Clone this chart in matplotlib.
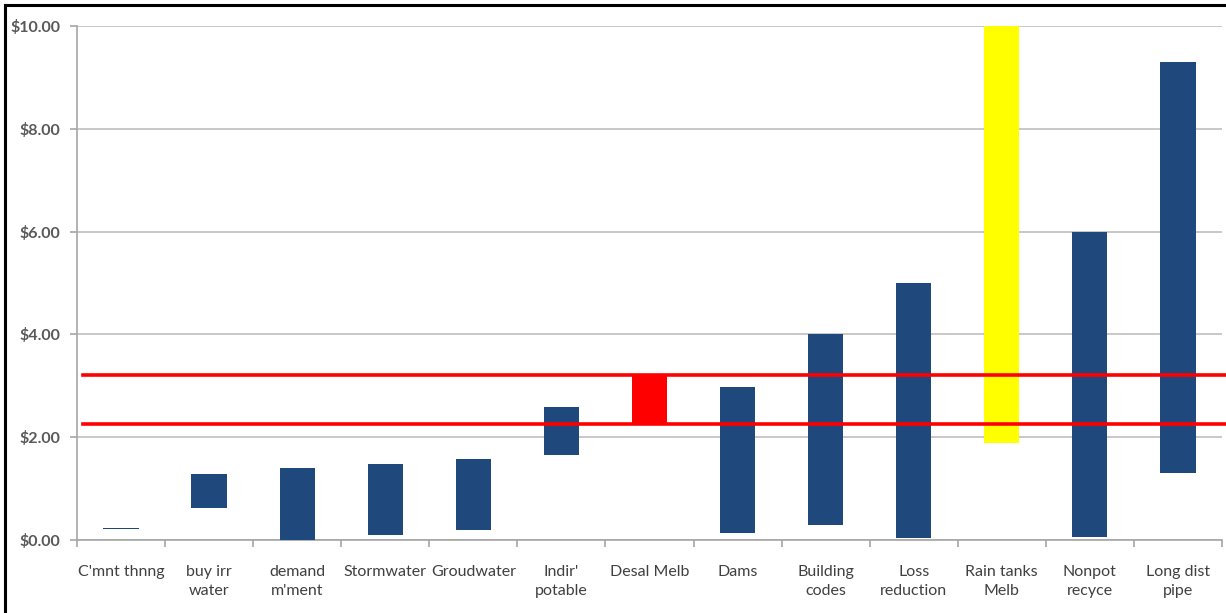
import numpy as np
import matplotlib.pyplot as plt
from matplotlib.lines import Line2D
from matplotlib.ticker import FuncFormatter

plt.rcParams['font.family'] = ['Lato', 'DejaVu Sans']

# cost ranges per water supply option ($ per kL)
options = ["C'mnt thnng", "buy irr\nwater", "demand\nm'ment", "Stormwater",
           "Groudwater", "Indir'\npotable", "Desal Melb", "Dams",
           "Building\ncodes", "Loss\nreduction", "Rain tanks\nMelb",
           "Nonpot\nrecyce", "Long dist\npipe"]
cost_low = [0.22, 0.62, 0.00, 0.09, 0.19, 1.66, 2.26, 0.14, 0.30, 0.03, 1.88, 0.06, 1.30]
cost_high = [0.24, 1.28, 1.41, 1.47, 1.57, 2.59, 3.21, 2.98, 4.00, 5.00, 10.00, 6.00, 9.29]
desal_band = [2.26, 3.21]

navy = '#1F497D'
bar_colors = [navy] * len(options)
bar_colors[options.index('Desal Melb')] = '#FF0000'
bar_colors[options.index('Rain tanks\nMelb')] = '#FFFF00'

fig = plt.figure(figsize=(12.26, 6.13), dpi=100)
ax = fig.add_axes([0.0628, 0.1191, 0.9339, 0.8385])

x = np.arange(len(options))
lo = np.array(cost_low)
hi = np.array(cost_high)
ax.bar(x, hi - lo, bottom=lo, width=0.4, color=bar_colors, zorder=3)

for level in desal_band:
    ax.axhline(level, xmin=0.005, xmax=1.01, color='#FF0000', lw=2.6,
               zorder=4, clip_on=False)

ax.set_xlim(-0.5, len(options) - 0.5)
ax.set_ylim(0, 10)
ax.set_yticks(np.arange(0, 10.01, 2))
ax.yaxis.set_major_formatter(FuncFormatter(lambda v, _: f'${v:.2f}'))
ax.grid(axis='y', color='#BFBFBF', lw=1.2, zorder=0)

# tick marks between categories, labels centred on each category
ax.set_xticks(np.arange(-0.5, len(options), 1.0))
ax.set_xticklabels([])
ax.set_xticks(x, minor=True)
ax.set_xticklabels(options, minor=True, linespacing=1.5)
ax.tick_params(axis='x', which='major', length=5, width=1.2, color='#A6A6A6', direction='out')
ax.tick_params(axis='x', which='minor', length=0, pad=18, labelsize=11.5, labelcolor='#404040')
ax.tick_params(axis='y', length=5, width=1.2, color='#A6A6A6', pad=7,
               labelsize=11.5, labelcolor='#595959')
for lab in ax.get_yticklabels():
    lab.set_fontweight('bold')

for side in ('top', 'right'):
    ax.spines[side].set_visible(False)
for side in ('left', 'bottom'):
    ax.spines[side].set_color('#A6A6A6')
    ax.spines[side].set_linewidth(1.2)

# outer frame along the top and left edges
W, H = 1226, 613
fig.add_artist(Line2D([5 / W, 5 / W], [0, 1 - 5 / H], color='black', lw=2.2,
                      transform=fig.transFigure))
fig.add_artist(Line2D([5 / W, 1], [1 - 5 / H, 1 - 5 / H], color='black', lw=2.2,
                      transform=fig.transFigure))

fig.savefig('out.png', dpi=100)
